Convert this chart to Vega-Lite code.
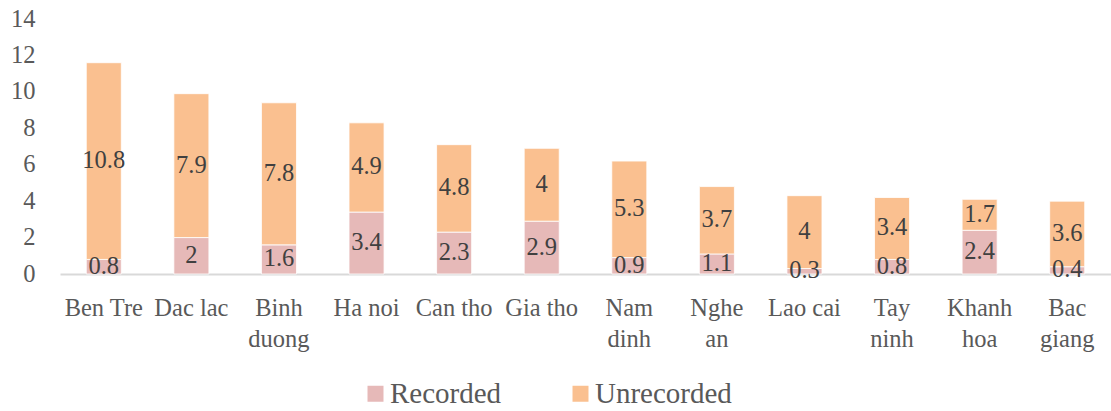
{
  "$schema": "https://vega.github.io/schema/vega-lite/v6.json",
  "autosize": "none",
  "width": 1051,
  "height": 255,
  "padding": {"left": 60, "top": 19, "right": 0, "bottom": 137},
  "background": "white",
  "config": {
    "view": {"stroke": null},
    "font": "Liberation Serif"
  },
  "data": {
    "values": [
      {"province": "Ben Tre", "type": "Recorded", "value": 0.8},
      {"province": "Ben Tre", "type": "Unrecorded", "value": 10.8},
      {"province": "Dac lac", "type": "Recorded", "value": 2},
      {"province": "Dac lac", "type": "Unrecorded", "value": 7.9},
      {"province": "Binh duong", "type": "Recorded", "value": 1.6},
      {"province": "Binh duong", "type": "Unrecorded", "value": 7.8},
      {"province": "Ha noi", "type": "Recorded", "value": 3.4},
      {"province": "Ha noi", "type": "Unrecorded", "value": 4.9},
      {"province": "Can tho", "type": "Recorded", "value": 2.3},
      {"province": "Can tho", "type": "Unrecorded", "value": 4.8},
      {"province": "Gia tho", "type": "Recorded", "value": 2.9},
      {"province": "Gia tho", "type": "Unrecorded", "value": 4},
      {"province": "Nam dinh", "type": "Recorded", "value": 0.9},
      {"province": "Nam dinh", "type": "Unrecorded", "value": 5.3},
      {"province": "Nghe an", "type": "Recorded", "value": 1.1},
      {"province": "Nghe an", "type": "Unrecorded", "value": 3.7},
      {"province": "Lao cai", "type": "Recorded", "value": 0.3},
      {"province": "Lao cai", "type": "Unrecorded", "value": 4},
      {"province": "Tay ninh", "type": "Recorded", "value": 0.8},
      {"province": "Tay ninh", "type": "Unrecorded", "value": 3.4},
      {"province": "Khanh hoa", "type": "Recorded", "value": 2.4},
      {"province": "Khanh hoa", "type": "Unrecorded", "value": 1.7},
      {"province": "Bac giang", "type": "Recorded", "value": 0.4},
      {"province": "Bac giang", "type": "Unrecorded", "value": 3.6}
    ]
  },
  "encoding": {
    "x": {
      "field": "province",
      "type": "nominal",
      "sort": null,
      "scale": {"paddingInner": 0.6, "paddingOuter": 0.3},
      "axis": {
        "title": null,
        "labelAngle": 0,
        "labelFont": "Liberation Serif",
        "labelFontSize": 24.5,
        "labelColor": "#595959",
        "labelPadding": 34,
        "labelLineHeight": 31,
        "labelBaseline": "middle",
        "ticks": false,
        "domainColor": "#D9D9D9",
        "domainWidth": 2,
        "grid": false,
        "labelExpr": "indexof(['Ben Tre','Dac lac','Ha noi','Can tho','Gia tho','Lao cai'], datum.label) >= 0 ? datum.label : split(datum.label, ' ')"
      }
    },
    "y": {
      "field": "value",
      "type": "quantitative",
      "aggregate": "sum",
      "stack": "zero",
      "scale": {"domain": [0, 14], "nice": false},
      "axis": {
        "title": null,
        "values": [0, 2, 4, 6, 8, 10, 12, 14],
        "labelFont": "Liberation Serif",
        "labelFontSize": 24.5,
        "labelColor": "#595959",
        "labelPadding": 25,
        "ticks": false,
        "domain": false,
        "grid": false
      }
    },
    "order": {"field": "type", "sort": "ascending"}
  },
  "layer": [
    {
      "mark": {"type": "bar", "stroke": "#ffffff", "strokeWidth": 0.8},
      "encoding": {
        "color": {
          "field": "type",
          "type": "nominal",
          "scale": {"domain": ["Recorded", "Unrecorded"], "range": ["#E6B9B8", "#FAC090"]},
          "legend": {
            "title": null,
            "orient": "none",
            "direction": "horizontal",
            "legendX": 301,
            "legendY": 360,
            "symbolType": "square",
            "symbolSize": 256,
            "symbolStrokeWidth": 0,
            "labelFont": "Liberation Serif",
            "labelFontSize": 29,
            "labelColor": "#595959",
            "labelOffset": 0,
            "columnPadding": 64,
            "padding": 0
          }
        }
      }
    },
    {
      "mark": {"type": "text", "font": "Liberation Serif", "fontSize": 24.5, "color": "#404040"},
      "encoding": {
        "y": {"field": "value", "type": "quantitative", "aggregate": "sum", "stack": "zero", "bandPosition": 0.5},
        "text": {"field": "value", "type": "quantitative", "aggregate": "sum"}
      }
    }
  ]
}
